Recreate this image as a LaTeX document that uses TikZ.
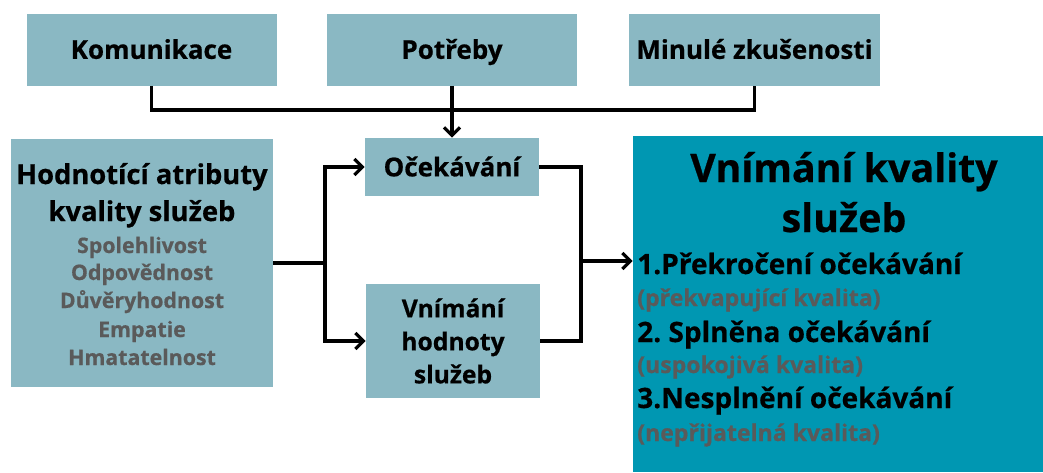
\documentclass[tikz,border=0pt]{standalone}
\usepackage{fontspec}
\setmainfont{Open Sans}[BoldFeatures={FakeBold=0.6}]
\usetikzlibrary{arrows.meta}
\definecolor{boxbg}{HTML}{8AB8C3}
\definecolor{mainbg}{HTML}{0097B2}
\definecolor{muted}{HTML}{5A5A5A}
\definecolor{ink}{HTML}{000000}
\frenchspacing
\tikzset{
  panel/.style={fill=boxbg, inner sep=0pt, align=center},
  cell/.style={
    panel,
    font=\bfseries\fontsize{19.5}{24}\selectfont,
    text height=14pt,
    text depth=0pt
  },
  wire/.style={draw=ink, line width=2.5pt},
  feed/.style={wire, -{Straight Barb[length=6pt,width=12pt]}},
  head/.style={font=\bfseries\fontsize{20.5}{26}\selectfont, text=ink, inner sep=0pt, anchor=base},
  attr/.style={font=\bfseries\fontsize{16}{20}\selectfont, text=muted, inner sep=0pt, anchor=base},
  bighead/.style={font=\bfseries\fontsize{29.5}{36}\selectfont, text=ink, inner sep=0pt, anchor=base},
  item/.style={font=\bfseries\fontsize{21}{26}\selectfont, text=ink, inner sep=0pt, anchor=base west},
  subitem/.style={font=\bfseries\fontsize{17.3}{22}\selectfont, text=muted, inner sep=0pt, anchor=base west}
}
\begin{document}
\begin{tikzpicture}[x=0.75pt, y=-0.75pt]
  \useasboundingbox (0,0) rectangle (1043,472);

  % top row
  \node[cell, minimum width=187.5pt, minimum height=54pt] (kom) at (151.5,49.5) {Komunikace};
  \node[cell, minimum width=187.5pt, minimum height=54pt] (pot) at (452,49.5) {Potřeby};
  \node[cell, minimum width=188pt, minimum height=54pt] (min) at (754.5,49.5) {Minulé zkušenosti};

  % left box
  \node[panel, minimum width=196.5pt, minimum height=186pt] (attr) at (142,263) {};
  \node[head] (attr-t1) at (142,184) {Hodnotící atributy};
  \node[head] (attr-t2) at (142,221) {kvality služeb};
  \node[attr] (attr-a) at (142,253) {Spolehlivost};
  \node[attr] (attr-b) at (142,280) {Odpovědnost};
  \node[attr] (attr-c) at (142,308) {Důvěryhodnost};
  \node[attr] (attr-d) at (142,337) {Empatie};
  \node[attr] (attr-e) at (142,365) {Hmatatelnost};

  % middle boxes
  \node[cell, minimum width=130.5pt, minimum height=43.5pt] (oce) at (452,167) {Očekávání};
  \node[panel, font=\bfseries\fontsize{18.5}{24.75}\selectfont,
        minimum width=130.5pt, minimum height=85.5pt] (hod) at (453,341) {Vnímání\\hodnoty\\služeb};

  % right box
  \node[fill=mainbg, inner sep=0pt, minimum width=307.5pt, minimum height=252pt] (vnim) at (838,304) {};
  \node[bighead] (vnim-t1) at (844,182) {Vnímání kvality};
  \node[bighead] (vnim-t2) at (844,232) {služeb};
  \node[item] (res-1) at (637,274) {1.Překročení očekávání};
  \node[subitem] (res-1s) at (637,306) {(překvapující kvalita)};
  \node[item] (res-2) at (637,342) {2. Splněna očekávání};
  \node[subitem] (res-2s) at (637,373) {(uspokojivá kvalita)};
  \node[item] (res-3) at (637,408) {3.Nesplnění očekávání};
  \node[subitem] (res-3s) at (637,441) {(nepřijatelná kvalita)};

  % connectors
  \coordinate (hub) at (452,110);
  \draw[wire] (kom.south) |- (hub) -| (min.south);
  \draw[feed] (pot.south) -- (oce.north);

  \coordinate (split) at (325,263);
  \draw[wire] (attr.east) -- (split);
  \draw[feed] (split) |- (oce.west);
  \draw[feed] (split) |- (hod.west);

  \coordinate (merge) at (581,261);
  \draw[wire] (oce.east) -| (merge);
  \draw[wire] (hod.east) -| (merge);
  \draw[feed] (merge) -- (vnim.west |- merge);
\end{tikzpicture}
\end{document}
